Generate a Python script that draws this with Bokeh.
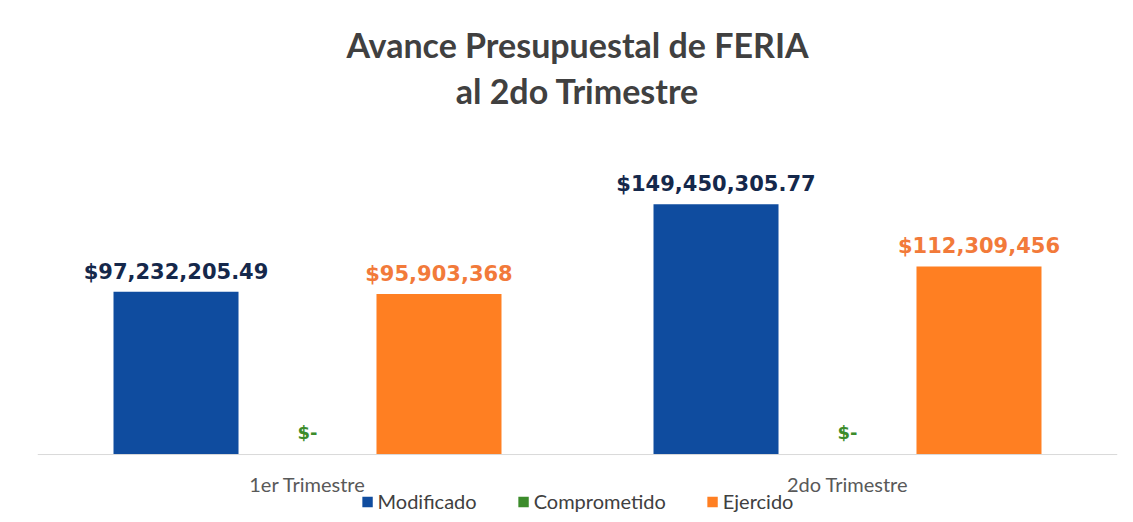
from bokeh.plotting import figure
from bokeh.models import ColumnDataSource, FactorRange, Range1d, Legend, LegendItem, Title, Span
from bokeh.transform import dodge
from bokeh.core.properties import value
from bokeh.embed import file_html
from bokeh.resources import INLINE

categories = ["1er Trimestre", "2do Trimestre"]
series = ["Modificado", "Comprometido", "Ejercido"]
modificado = [97232205.49, 149450305.77]
comprometido = [0, 0]
ejercido = [95903368, 112309456]
mod_labels = ["$97,232,205.49", "$149,450,305.77"]
comp_labels = ["$-", "$-"]
ej_labels = ["$95,903,368", "$112,309,456"]
bar_colors = ["#0f4c9f", "#3c8c2b", "#ff7f22"]
label_colors = ["#15284b", "#3c8c2b", "#f27a3a"]
title_lines = ["Avance Presupuestal de FERIA", "al 2do Trimestre"]

source = ColumnDataSource(dict(
    cat=categories, base=[0, 0], mod=modificado, comp=comprometido, ej=ejercido,
    mod_l=mod_labels, comp_l=comp_labels, ej_l=ej_labels,
))

p = figure(frame_width=1080, frame_height=394, x_range=FactorRange(*categories),
           y_range=Range1d(-35.2e6, 200e6), output_backend="svg", toolbar_location=None,
           min_border_left=37, min_border_right=8, min_border_top=0, min_border_bottom=0,
           background_fill_color="white", border_fill_color="white")
p.outline_line_color = None
p.xgrid.visible = False
p.ygrid.visible = False
p.yaxis.visible = False
p.xaxis.visible = False

def spacer(size):
    return Title(text=" ", align="center", text_font="Lato",
                 text_font_size=size, text_color="#404040", standoff=0)

p.add_layout(spacer("4px"), "above")
p.add_layout(Title(text=title_lines[1], align="center", text_font="Lato",
                   text_font_size="34px", text_font_style="bold",
                   text_color="#404040", standoff=4), "above")
p.add_layout(Title(text=title_lines[0], align="center", text_font="Lato",
                   text_font_size="34px", text_font_style="bold",
                   text_color="#404040", standoff=2), "above")
p.add_layout(spacer("15px"), "above")

p.add_layout(Span(location=0, dimension="width", line_color="#d9d9d9", line_width=1))

offsets = [-0.2435, 0.0, 0.2435]
fields = ["mod", "comp", "ej"]
lfields = ["mod_l", "comp_l", "ej_l"]
renderers = []
for off, f, lf, c, lc in zip(offsets, fields, lfields, bar_colors, label_colors):
    r = p.vbar(x=dodge("cat", off, range=p.x_range), top=f, width=0.2315,
               source=source, fill_color=c, line_color=None)
    renderers.append(r)
    if f == "comp":
        p.text(x=dodge("cat", off, range=p.x_range), y=f, text=lf, source=source,
               text_align="center", text_baseline="alphabetic", y_offset=-22,
               text_font=value("DejaVu Sans"), text_font_style="bold",
               text_font_size="18px", text_color=lc)
    else:
        p.text(x=dodge("cat", off, range=p.x_range), y=f, text=lf, source=source,
               text_align="center", text_baseline="alphabetic", y_offset=-20,
               text_font=value("DejaVu Sans"), text_font_style="bold",
               text_font_size="21px", text_color=lc)

# category labels under the baseline
p.text(x="cat", y="base", text="cat", source=source, text_align="center",
       text_baseline="middle", y_offset=29, text_font=value("Lato"),
       text_font_size="20px", text_color="#595959")

legend = Legend(items=[LegendItem(label=s, renderers=[r]) for s, r in zip(series, renderers)],
                orientation="horizontal", location="bottom_center",
                label_text_font="Lato", label_text_font_size="20px", label_text_color="#404040",
                glyph_width=13, glyph_height=13, label_standoff=4, spacing=40,
                label_height=20, padding=0, margin=0, border_line_color=None,
                background_fill_alpha=0)
p.add_layout(legend, "center")

open("out.html", "w").write(file_html(p, INLINE))
